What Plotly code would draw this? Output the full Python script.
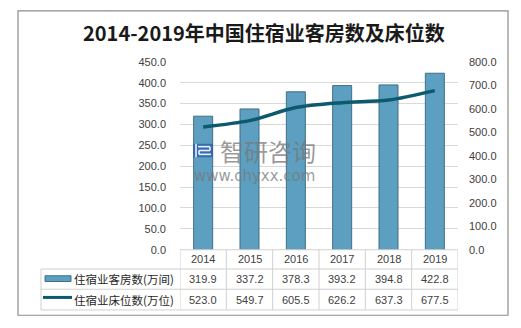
import plotly.graph_objects as go

years = ["2014", "2015", "2016", "2017", "2018", "2019"]
rooms = [319.9, 337.2, 378.3, 393.2, 394.8, 422.8]
beds = [523.0, 549.7, 605.5, 626.2, 637.3, 677.5]
rooms_name = "住宿业客房数(万间)"
beds_name = "住宿业床位数(万位)"
title = "2014-2019年中国住宿业客房数及床位数"
y_ticks = [0, 50, 100, 150, 200, 250, 300, 350, 400, 450]
y2_ticks = [0, 100, 200, 300, 400, 500, 600, 700, 800]

W, H = 521, 328
def px(x):
    return x / W
def py(y):
    return 1 - y / H

BAR_COLOR = "#5d9fc0"
BAR_EDGE = "#3f6f86"
LINE_COLOR = "#0d5a6f"
TXT = "#404040"
GRID = "#d9d9d9"
FONT = "Liberation Sans"

fig = go.Figure()
fig.add_trace(go.Bar(x=years, y=rooms, name=rooms_name, marker=dict(color=BAR_COLOR, line=dict(color=BAR_EDGE, width=1)),
                     width=0.41, yaxis="y"))
fig.add_trace(go.Scatter(x=years, y=beds, name=beds_name, mode="lines",
                         line=dict(color=LINE_COLOR, width=3.5, shape="spline", smoothing=0.8), yaxis="y2"))

plot_l, plot_r, plot_t, plot_b = 180, 458, 58, 253

fig.update_layout(
    width=W, height=H, margin=dict(l=0, r=0, t=0, b=0),
    paper_bgcolor="white", plot_bgcolor="white", showlegend=False,
    xaxis=dict(type="category", domain=[px(plot_l), px(plot_r)], showticklabels=False, ticks="", showgrid=False,
               showline=False, zeroline=False, range=[-0.5, 5.5]),
    yaxis=dict(domain=[py(plot_b), py(plot_t)], range=[0, 450], tickvals=y_ticks,
               ticktext=[f"{v:.1f}" for v in y_ticks], showgrid=True, gridcolor=GRID, gridwidth=1,
               zeroline=False, showline=False, ticks="", ticklabelstandoff=13,
               tickfont=dict(family=FONT, size=11, color=TXT)),
    yaxis2=dict(domain=[py(plot_b), py(plot_t)], range=[0, 800], tickvals=y2_ticks,
                ticktext=[f"{v:.1f}" for v in y2_ticks], overlaying="y", side="right", showgrid=False,
                zeroline=False, showline=False, ticks="", ticklabelstandoff=10,
                tickfont=dict(family=FONT, size=11, color=TXT)),
    font=dict(family=FONT, color=TXT),
)

shapes = []
# outer frame
shapes.append(dict(type="rect", xref="paper", yref="paper", x0=px(18), x1=px(508), y0=py(321), y1=py(5),
                   line=dict(color="#8c8c8c", width=1.2)))
# table
row_top, row1, row2, row_bot = 253, 273, 294, 315.5
tab_left = 41
lc = "#d0d0d0"
for yy, xl in [(row_top, plot_l), (row1, tab_left), (row2, tab_left), (row_bot, tab_left)]:
    shapes.append(dict(type="line", xref="paper", yref="paper", x0=px(xl), x1=px(plot_r), y0=py(yy), y1=py(yy),
                       line=dict(color=lc, width=1)))
shapes.append(dict(type="line", xref="paper", yref="paper", x0=px(tab_left), x1=px(tab_left), y0=py(row1), y1=py(row_bot),
                   line=dict(color=lc, width=1)))
for i in range(len(years) + 1):
    shapes.append(dict(type="line", xref="x", yref="paper", x0=i - 0.5, x1=i - 0.5, y0=py(row_top), y1=py(row_bot),
                       line=dict(color=lc, width=1)))
# legend keys
shapes.append(dict(type="rect", xref="paper", yref="paper", x0=px(45), x1=px(71), y0=py(286), y1=py(280),
                   fillcolor=BAR_COLOR, line=dict(color=BAR_EDGE, width=1)))
shapes.append(dict(type="line", xref="paper", yref="paper", x0=px(43), x1=px(72), y0=py(302.5), y1=py(302.5),
                   line=dict(color=LINE_COLOR, width=3)))
# watermark logo
wm_blue = "rgba(45,95,170,0.8)"
shapes.append(dict(type="rect", xref="paper", yref="paper", x0=px(193), x1=px(213), y0=py(157), y1=py(143),
                   fillcolor=wm_blue, line=dict(width=0), layer="above"))
for (x0, y0, x1, y1) in [(198, 146, 210, 146), (210, 146, 210, 150), (210, 150, 199, 150), (199, 150, 199, 154),
                         (199, 154, 211, 154), (196, 143, 196, 157)]:
    shapes.append(dict(type="line", xref="paper", yref="paper", x0=px(x0), x1=px(x1), y0=py(y0), y1=py(y1),
                       line=dict(color="rgba(255,255,255,0.9)", width=1.6), layer="above"))

ann = []
ann.append(dict(text="<b>" + title + "</b>", x=px(264), y=py(28), xref="paper", yref="paper", showarrow=False,
                font=dict(family="Noto Sans CJK SC", size=20, color="#1a1a1a"), xanchor="center", yanchor="middle"))
for i, yv in enumerate(years):
    ann.append(dict(text=yv, x=i, y=py((row_top + row1) / 2), xref="x", yref="paper", showarrow=False,
                    font=dict(family=FONT, size=11, color=TXT), yanchor="middle", xanchor="center"))
    ann.append(dict(text=f"{rooms[i]:.1f}", x=i, y=py((row1 + row2) / 2), xref="x", yref="paper", showarrow=False,
                    font=dict(family=FONT, size=11, color=TXT), yanchor="middle", xanchor="center"))
    ann.append(dict(text=f"{beds[i]:.1f}", x=i, y=py((row2 + row_bot) / 2), xref="x", yref="paper", showarrow=False,
                    font=dict(family=FONT, size=11, color=TXT), yanchor="middle", xanchor="center"))
for name, yy in [(rooms_name, (row1 + row2) / 2), (beds_name, (row2 + row_bot) / 2)]:
    ann.append(dict(text=name, x=px(72), y=py(yy), xref="paper", yref="paper", showarrow=False, xanchor="left",
                    yanchor="middle", font=dict(family="Noto Sans CJK SC", size=11.5, color="#262626")))
# watermark text
ann.append(dict(text="智研咨询", x=px(218), y=py(150), xref="paper", yref="paper", showarrow=False, xanchor="left",
                yanchor="middle", font=dict(family="Noto Sans CJK SC", size=24, color="rgba(120,120,120,0.75)")))
ann.append(dict(text="www.chyxx.com", x=px(192), y=py(176.5), xref="paper", yref="paper", showarrow=False, xanchor="left",
                yanchor="middle", font=dict(family="DejaVu Sans", size=15, color="rgba(120,120,120,0.75)")))
fig.update_layout(shapes=shapes, annotations=ann)

fig.write_html("out.html")
